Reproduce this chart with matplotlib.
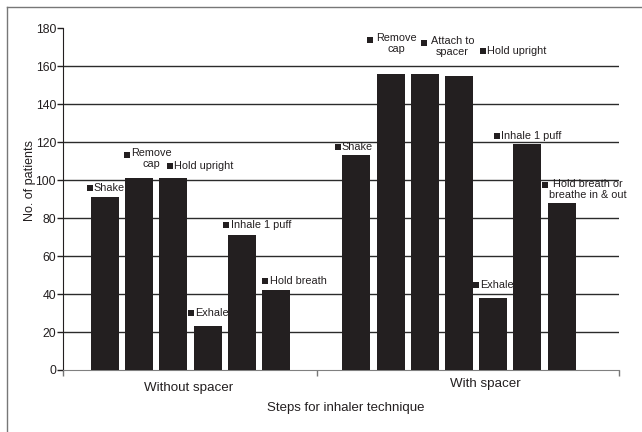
import numpy as np
import matplotlib
matplotlib.use("Agg")
import matplotlib.pyplot as plt
from matplotlib.lines import Line2D

plt.rcParams['font.family'] = ['Liberation Sans', 'DejaVu Sans']

# number of patients doing each inhaler step correctly
groups = ["Without spacer", "With spacer"]
steps_without = ["Shake", "Remove\ncap", "Hold upright", "Exhale", "Inhale 1 puff", "Hold breath"]
counts_without = [91, 101, 101, 23, 71, 42]
steps_with = ["Shake", "Remove\ncap", "Attach to\nspacer", "Hold upright", "Exhale",
              "Inhale 1 puff", "Hold breath or\nbreathe in & out"]
counts_with = [113, 156, 156, 155, 38, 119, 88]
y_ticks = np.arange(0, 181, 20)

# layout (x in bar slots)
group_start = [1.23, 8.58]
group_edges = [0, 7.43, 16.26]
bar_w = 0.82
# label key positions: (key x, key y, centre x for two-line text or None)
labels_without = [(0.78, 96, None), (1.86, 113.3, 2.59), (3.13, 107.5, None),
                  (3.73, 30, None), (4.78, 76.4, None), (5.92, 46.9, None)]
labels_with = [(8.03, 117.5, None), (8.98, 173.9, 9.74), (10.56, 172.3, 11.39),
               (12.28, 168, None), (12.08, 44.8, None), (12.69, 123.3, None),
               (14.09, 97.2, 15.35)]

dark = "#231f20"
W, H = 642, 432
fig = plt.figure(figsize=(W / 100, H / 100), dpi=100)
ax = fig.add_axes([63 / W, 1 - 370 / H, (619 - 63) / W, (370 - 28.3) / H])

for start, counts in zip(group_start, [counts_without, counts_with]):
    x = start + np.arange(len(counts))
    ax.bar(x, counts, width=bar_w, color=dark, zorder=3)

for steps, labs in [(steps_without, labels_without), (steps_with, labels_with)]:
    for txt, (mx, my, cx) in zip(steps, labs):
        ax.scatter([mx], [my], marker='s', s=15, color=dark, linewidths=0, zorder=4)
        if cx is None:
            ax.annotate(txt, xy=(mx, my), xytext=(3, 0), textcoords='offset points',
                        ha='left', va='center', fontsize=7.8, color=dark, zorder=4)
        else:
            ax.annotate(txt, xy=(cx, my), xytext=(0, 4.8), textcoords='offset points',
                        ha='center', va='top', multialignment='center', linespacing=1.12,
                        fontsize=7.8, color=dark, zorder=4)

ax.hlines(y_ticks[1:-1], group_edges[0], group_edges[-1], color="#2b2b2b", lw=1, zorder=1)
ax.set_xlim(group_edges[0], group_edges[-1])
ax.set_ylim(0, 180)
ax.set_yticks(y_ticks)
ax.set_xticks(group_edges)
ax.set_xticklabels([])
ax.tick_params(axis='y', direction='out', length=4, width=1, color=dark, labelsize=8.8, pad=1,
               labelcolor=dark)
ax.tick_params(axis='x', direction='out', length=4, width=1, color="#777777")
for s in ['top', 'right']:
    ax.spines[s].set_visible(False)
ax.spines['left'].set_color(dark)
ax.spines['bottom'].set_color("#808080")

fig.text(189 / W, 1 - 388 / H, groups[0], ha='center', va='center', fontsize=9.6, color=dark)
fig.text(485 / W, 1 - 384 / H, groups[1], ha='center', va='center', fontsize=9.6, color=dark)
fig.text(346 / W, 1 - 408 / H, "Steps for inhaler technique", ha='center', va='center',
         fontsize=9.5, color=dark)
fig.text(30 / W, 1 - 180 / H, "No. of patients", ha='center', va='center', rotation=90,
         fontsize=9, color=dark)

# outer frame
fig.add_artist(Line2D([7 / W, 7 / W], [0, 1 - 7 / H], color="#777777", lw=1))
fig.add_artist(Line2D([7 / W, 1], [1 - 7 / H, 1 - 7 / H], color="#777777", lw=1))

fig.savefig("out.png", dpi=100)
